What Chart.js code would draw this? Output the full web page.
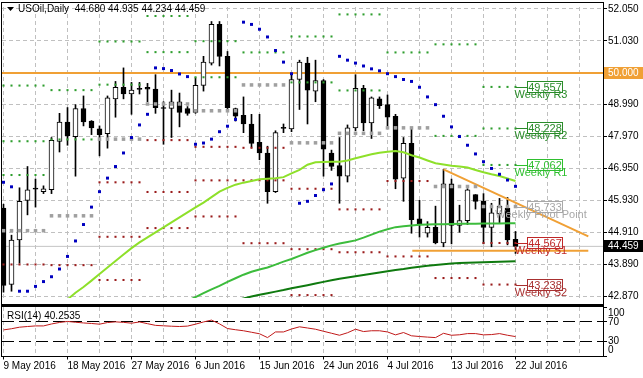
<!DOCTYPE html>
<html>
<head>
<meta charset="utf-8">
<script src="https://cdn.jsdelivr.net/npm/chart.js"></script>
<style>
  html, body { margin:0; padding:0; background:#fff; }
  #wrap { position:relative; width:643px; height:378px; overflow:hidden; background:#fff; }
  canvas { position:absolute; left:0; }
  #prix { top:0; }
  #rsi { top:305px; }
</style>
</head>
<body>
<div id="wrap">
  <canvas id="prix" width="643" height="305"></canvas>
  <canvas id="rsi" width="643" height="73"></canvas>
</div>
<script>
// USOil daily bars, 9 May -> 22 Jul 2016 (Sunday bars included)
var opens  = [45.683,43.241,44.663,45.930,46.31,46.208,46.270,47.815,48.434,47.970,48.866,48.465,48.217,48.063,49.175,49.546,49.330,49.50,49.546,49.485,48.897,48.866,49.083,48.866,48.743,49.608,50.319,51.555,50.535,48.866,48.650,48.372,47.785,47.445,46.208,48.25,48.217,49.794,50.319,49.423,49.763,47.445,47.043,46.703,48.248,49.515,48.403,49.175,48.990,48.619,46.641,47.754,45.343,44.879,45.065,44.570,46.455,45.126,45.281,46.115,45.899,45.065,45.497,45.683,44.680];
var highs  = [45.806,44.817,46.332,47.012,46.610,46.394,47.939,48.712,48.897,48.990,49.268,48.480,48.310,49.268,49.732,50.165,49.701,49.701,49.670,49.948,49.083,49.454,49.361,48.928,49.855,50.535,51.648,51.648,50.690,48.880,49.237,48.681,48.681,47.661,48.155,48.372,49.948,50.412,50.505,50.412,49.794,47.537,47.939,48.341,49.948,49.608,49.237,49.237,49.299,48.681,47.939,48.217,45.930,45.250,45.745,46.919,46.610,45.775,46.301,46.115,46.146,45.837,45.992,46.023,44.935];
var lows   = [42.994,43.025,43.921,45.466,45.714,46.146,46.146,47.476,47.692,46.703,48.310,48.032,47.352,47.599,48.588,49.175,48.681,49.330,49.083,48.712,47.723,47.939,48.279,48.650,48.712,49.423,50.257,50.226,48.866,48.465,48.094,47.630,47.228,45.837,46.180,48.094,48.125,48.835,48.372,49.083,46.703,46.888,45.837,46.517,48.155,48.155,47.908,48.866,48.310,46.301,45.899,44.879,44.755,44.755,44.539,44.446,44.539,44.910,45.157,45.652,44.539,44.446,45.219,44.508,44.234];
var closes = [43.210,44.663,45.899,46.270,46.29,46.301,47.846,48.434,48.001,48.866,48.434,48.248,48.032,49.206,49.546,49.330,49.454,49.48,49.485,48.897,48.866,49.083,48.743,48.712,49.608,50.350,51.555,50.535,48.897,48.619,48.372,47.754,47.445,46.208,48.094,48.23,49.794,50.350,49.454,49.763,47.568,47.012,46.703,48.248,49.515,48.403,49.206,48.959,48.588,46.610,47.754,45.312,45.157,45.065,44.570,46.455,45.126,45.281,46.270,45.899,45.065,45.528,45.745,44.663,44.459];

// moyennes mobiles (clair, moyen, fonce)
var maFast = [null,null,null,null,null,null,42.345,42.561,42.762,42.978,43.161,43.364,43.575,43.782,43.989,44.199,44.403,44.585,44.746,44.907,45.065,45.225,45.386,45.544,45.704,45.859,46.035,46.208,46.329,46.431,46.496,46.548,46.604,46.619,46.635,46.672,46.795,46.907,47.070,47.145,47.160,47.166,47.166,47.203,47.274,47.342,47.401,47.454,47.485,47.506,47.469,47.373,47.299,47.206,47.116,47.080,47.039,47.012,46.981,46.903,46.826,46.764,46.709,46.631,46.548];
var maMid = [null,null,null,null,null,null,null,null,null,null,null,null,null,null,null,null,null,null,null,null,null,null,null,42.716,42.839,42.963,43.086,43.195,43.321,43.439,43.553,43.649,43.720,43.782,43.874,43.973,44.057,44.156,44.255,44.338,44.416,44.490,44.549,44.601,44.651,44.737,44.836,44.929,45.006,45.074,45.099,45.126,45.151,45.157,45.164,45.170,45.176,45.179,45.182,45.185,45.188,45.191,45.194,45.197,45.201];
var maSlow = [null,null,null,null,null,null,null,null,null,null,null,null,null,null,null,null,null,null,null,null,null,null,null,null,null,null,null,null,null,42.731,42.793,42.855,42.910,42.963,43.012,43.061,43.117,43.167,43.219,43.272,43.324,43.374,43.426,43.463,43.504,43.541,43.581,43.624,43.664,43.704,43.735,43.773,43.810,43.841,43.865,43.890,43.912,43.927,43.936,43.946,43.952,43.958,43.967,43.976,43.983];

// parabolic SAR
var sar = [46.508,46.363,43.025,43.025,43.179,43.333,43.488,43.735,44.137,44.632,45.157,45.714,46.208,46.641,47.012,47.445,47.939,48.341,48.681,50.165,50.143,50.081,49.970,49.886,47.723,47.763,47.887,48.125,48.301,48.517,51.627,51.555,51.401,51.154,50.721,50.350,49.979,45.837,45.899,46.085,46.270,46.455,50.535,50.412,50.319,50.226,50.134,50.072,49.979,49.886,49.794,49.732,49.546,49.237,48.990,48.619,48.279,47.970,47.692,47.414,47.166,46.950,46.764,46.579,46.378];

// RSI(14)
var rsi = [53.7,56.1,59.2,60.6,61.8,61.8,65.7,68.8,70.8,69.2,67.8,66.7,65.3,68.6,70.0,69.0,67.3,69.8,66.3,62.9,62.0,61.2,60.6,61.4,65.3,69.8,73.5,65.9,56.5,54.1,52.0,49.0,45.9,38.2,49.6,49.6,55.5,60.0,57.6,55.1,51.0,47.0,42.9,48.0,55.1,50.4,52.0,52.0,49.6,43.7,48.4,41.8,40.4,39.2,38.2,46.9,42.9,43.9,46.3,46.3,43.7,44.3,46.3,42.9,40.25];

// pivots hebdo (une valeur par semaine, la semaine commence au lundi)
var weekStarts = [0,6,12,18,24,30,36,42,48,54,60];
var pivR3 = [49.600,null,null,null,null,null,null,null,null,null,49.557];
var pivR2 = [47.820,49.454,51.009,51.824,51.019,null,51.169,51.875,null,50.918,48.228];
var pivR1 = [46.740,47.877,49.629,50.669,49.866,50.660,49.701,49.444,50.659,47.991,47.062];
var pivPP = [44.960,45.436,47.887,49.011,48.794,49.620,47.769,48.073,48.248,46.373,45.733];
var pivS1 = [43.880,43.859,46.507,47.856,47.641,47.610,46.301,45.642,46.548,43.446,44.567];
var pivS2 = [null,null,44.765,46.198,46.569,46.570,44.369,44.271,44.137,null,43.238];
var pivS3 = [null,null,43.384,45.044,45.415,44.560,42.901,null,null,null,null];
var pivLabels = ['Weekly R3','Weekly R2','Weekly R1','Weekly Pivot Point','Weekly S1','Weekly S2'];
var pivLast = [49.557,48.228,47.062,45.733,44.567,43.238];
var pivColors = ['#2a8c2a','#2a8c2a','#2fbf2f','#a8a8a8','#c02828','#a83030'];

// objets traces
var level50 = 50.000;
var trendX = [55, 73.1], trendY = [46.92, 44.78];
var supportX = [51.1, 73.1], supportY = [44.32, 44.32];

// axes
var priceTicks = [52.05,51.03,50.01,48.99,47.97,46.95,45.93,44.91,43.89,42.87];
var dateTicks = ['9 May 2016','18 May 2016','27 May 2016','6 Jun 2016','15 Jun 2016','24 Jun 2016','4 Jul 2016','13 Jul 2016','22 Jul 2016'];
var rsiTicks = [100,70,30,0];
var title = 'USOil,Daily  44.680 44.935 44.234 44.459';
var rsiTitle = 'RSI(14) 40.2535';

var xMin = -0.1875, xMax = 74.9375;
var last = closes.length - 1;
var police = '"Liberation Sans", Arial, sans-serif';
Chart.defaults.font.family = police;
Chart.defaults.font.size = 10;
Chart.defaults.color = '#000';

function serie(arr) { return arr.map(function(v, i) { return {x: i, y: v}; }); }
function semaines(levels) {
  var out = [];
  for (var w = 0; w < weekStarts.length; w++) {
    if (levels[w] == null) continue;
    var fin = Math.min(weekStarts[w] + 5, last);
    for (var i = weekStarts[w]; i <= fin; i++) out.push({x: i, y: levels[w]});
  }
  return out;
}
function points(data, color, r, ordre) {
  return {type: 'line', data: data, showLine: false, pointStyle: 'rect', pointRadius: r,
    pointBackgroundColor: color, pointBorderWidth: 0, order: ordre, clip: 0};
}
function ligne(data, color, w, ordre) {
  return {type: 'line', data: data, borderColor: color, borderWidth: w, pointRadius: 0,
    tension: 0, order: ordre, clip: 0};
}

var wicks = closes.map(function(c, i) { return {x: i, y: [lows[i], highs[i]]}; });
var bodies = closes.map(function(c, i) { return {x: i, y: [opens[i], c]}; });
var bodyColors = closes.map(function(c, i) { return c >= opens[i] ? '#fff' : '#000'; });

var xGrid = function(s) {
  s.ticks = [];
  for (var v = 0; v <= 72; v += 4) s.ticks.push({value: v});
};

var decorPrix = {
  id: 'decorPrix',
  afterDatasetsDraw: function(chart) {
    var ctx = chart.ctx, xs = chart.scales.x, ys = chart.scales.y;
    ctx.save();
    // etiquettes des pivots de la derniere semaine
    var x0 = Math.round(xs.getPixelForValue(last));
    for (var k = 0; k < pivLast.length; k++) {
      var y = Math.round(ys.getPixelForValue(pivLast[k]));
      ctx.strokeStyle = pivColors[k];
      ctx.lineWidth = 1;
      ctx.beginPath();
      ctx.moveTo(x0, y + 0.5); ctx.lineTo(x0 + 12, y + 0.5);
      ctx.stroke();
      ctx.strokeRect(x0 + 11.5, y - 5.5, 35, 11);
      ctx.fillStyle = pivColors[k];
      ctx.font = '11px ' + police;
      ctx.textAlign = 'center';
      ctx.textBaseline = 'middle';
      ctx.fillText(pivLast[k].toFixed(3), x0 + 29, y + 0.5);
      ctx.fillText(pivLabels[k], x0 + 25, y + 8);
    }
    // titre
    ctx.fillStyle = '#000';
    ctx.beginPath();
    ctx.moveTo(7, 7); ctx.lineTo(14, 7); ctx.lineTo(10.5, 11); ctx.closePath();
    ctx.fill();
    ctx.font = '10px ' + police;
    ctx.textAlign = 'left';
    ctx.textBaseline = 'middle';
    ctx.fillText(title, 18, 9.5);
    ctx.restore();
  },
  afterDraw: function(chart) {
    var ctx = chart.ctx, ys = chart.scales.y, a = chart.chartArea;
    ctx.save();
    function etiquette(v, fond) {
      var y = Math.round(ys.getPixelForValue(v));
      ctx.fillStyle = fond;
      ctx.fillRect(a.right + 1, y - 6, 39, 12);
      ctx.fillStyle = '#fff';
      ctx.font = '10px ' + police;
      ctx.textAlign = 'left';
      ctx.textBaseline = 'middle';
      ctx.fillText(v.toFixed(3), a.right + 5, y + 0.5);
    }
    etiquette(level50, '#f0a035');
    etiquette(closes[last], '#000');
    ctx.strokeStyle = '#000';
    ctx.lineWidth = 1;
    ctx.strokeRect(1.5, 2.5, a.right - 1, 302);
    ctx.restore();
  }
};

new Chart(document.getElementById('prix').getContext('2d'), {
  type: 'bar',
  data: {
    datasets: [
      ligne([{x: xMin, y: closes[last]}, {x: xMax, y: closes[last]}], '#c4c4c4', 1, 20),
      ligne([{x: xMin, y: level50}, {x: xMax, y: level50}], '#f0a035', 2, 19),
      {type: 'bar', data: wicks, backgroundColor: '#000', barThickness: 1, grouped: false, order: 18, clip: 0},
      {type: 'bar', data: bodies, backgroundColor: bodyColors, borderColor: '#000', borderWidth: 1,
        borderSkipped: false, barThickness: 5, minBarLength: 1, grouped: false, order: 17, clip: 0},
      ligne([{x: trendX[0], y: trendY[0]}, {x: trendX[1], y: trendY[1]}], '#f0a035', 2, 16),
      ligne([{x: supportX[0], y: supportY[0]}, {x: supportX[1], y: supportY[1]}], '#f0a035', 2, 16),
      points(semaines(pivR3), '#2e9e2e', 1.45, 15),
      points(semaines(pivR2), '#2e9e2e', 1.45, 15),
      points(semaines(pivR1), '#2e9e2e', 1.45, 15),
      points(semaines(pivPP), '#a0a0a0', 2.5, 15),
      points(semaines(pivS1), '#9a1c1c', 1.45, 15),
      points(semaines(pivS2), '#9a1c1c', 1.45, 15),
      points(semaines(pivS3), '#9a1c1c', 1.45, 15),
      ligne(serie(maSlow), '#0f7a0f', 2, 14),
      ligne(serie(maMid), '#3cbc3c', 2, 13),
      ligne(serie(maFast), '#8ee02a', 2, 12),
      points(serie(sar), '#0000c0', 2.1, 10)
    ]
  },
  options: {
    responsive: false,
    maintainAspectRatio: false,
    animation: false,
    events: [],
    layout: {padding: {left: 2, top: 2, right: 0, bottom: 2}, autoPadding: false},
    plugins: {legend: {display: false}, tooltip: {enabled: false}},
    scales: {
      x: {
        type: 'linear', min: xMin, max: xMax, offset: false,
        afterBuildTicks: xGrid,
        afterFit: function(s) { s.height = 0; },
        ticks: {display: false},
        grid: {color: '#c0c0c0', drawTicks: false, offset: false},
        border: {display: false, dash: [4, 3]}
      },
      y: {
        position: 'right',
        min: 42.8082, max: 52.1118,
        afterBuildTicks: function(s) { s.ticks = priceTicks.map(function(v) { return {value: v}; }); },
        afterFit: function(s) { s.width = 40; },
        ticks: {padding: 1, autoSkip: false,
          callback: function(v) { return Math.abs(v - 50.01) < 0.001 ? '' : v.toFixed(3); }},
        grid: {color: '#c0c0c0', tickLength: 4, tickColor: '#000'},
        border: {display: false, dash: [4, 3]}
      }
    }
  },
  plugins: [decorPrix]
});

var decorRsi = {
  id: 'decorRsi',
  afterDraw: function(chart) {
    var ctx = chart.ctx, ys = chart.scales.y, a = chart.chartArea;
    ctx.save();
    ctx.fillStyle = '#000';
    ctx.font = '10px ' + police;
    ctx.textAlign = 'left';
    ctx.textBaseline = 'middle';
    ctx.fillText(rsiTitle, 7, 11);
    rsiTicks.forEach(function(v) {
      var y = ys.getPixelForValue(v);
      y = Math.max(a.top + 6, Math.min(a.bottom - 6, y));
      ctx.fillText(String(v), a.right + 5, y);
    });
    ctx.strokeStyle = '#000';
    ctx.lineWidth = 1;
    ctx.strokeRect(1.5, 0.5, a.right - 1, 51);
    ctx.beginPath();
    ctx.moveTo(1.5, 1.5); ctx.lineTo(a.right + 0.5, 1.5);
    ctx.stroke();
    ctx.restore();
  }
};

new Chart(document.getElementById('rsi').getContext('2d'), {
  type: 'line',
  data: {
    datasets: [
      {data: serie(rsi), borderColor: '#c01818', borderWidth: 1, pointRadius: 0, tension: 0, clip: 0}
    ]
  },
  options: {
    responsive: false,
    maintainAspectRatio: false,
    animation: false,
    events: [],
    layout: {padding: {left: 2, top: 2, right: 0, bottom: 0}, autoPadding: false},
    plugins: {legend: {display: false}, tooltip: {enabled: false}},
    scales: {
      x: {
        type: 'linear', min: xMin, max: xMax, offset: false,
        afterBuildTicks: xGrid,
        afterFit: function(s) { s.height = 21.5; },
        ticks: {
          align: 'start', autoSkip: false, maxRotation: 0, minRotation: 0, padding: 1,
          callback: function(v) { return (v % 8 === 0 && v / 8 < dateTicks.length) ? dateTicks[v / 8] : ''; }
        },
        grid: {
          color: '#c0c0c0', tickLength: 3, offset: false,
          tickColor: function(c) { var v = c.tick.value; return (v % 8 === 0 && v / 8 < dateTicks.length) ? '#000' : 'rgba(0,0,0,0)'; }
        },
        border: {display: false, dash: [4, 3]}
      },
      y: {
        position: 'right', min: 0, max: 100,
        afterBuildTicks: function(s) { s.ticks = rsiTicks.map(function(v) { return {value: v}; }); },
        afterFit: function(s) { s.width = 40; },
        ticks: {display: false},
        grid: {
          tickLength: 4, tickColor: '#000',
          color: function(c) { var v = c.tick.value; return (v === 30 || v === 70) ? '#000' : 'rgba(0,0,0,0)'; }
        },
        border: {display: false, dash: [12, 5]}
      }
    }
  },
  plugins: [decorRsi]
});
</script>
</body>
</html>
